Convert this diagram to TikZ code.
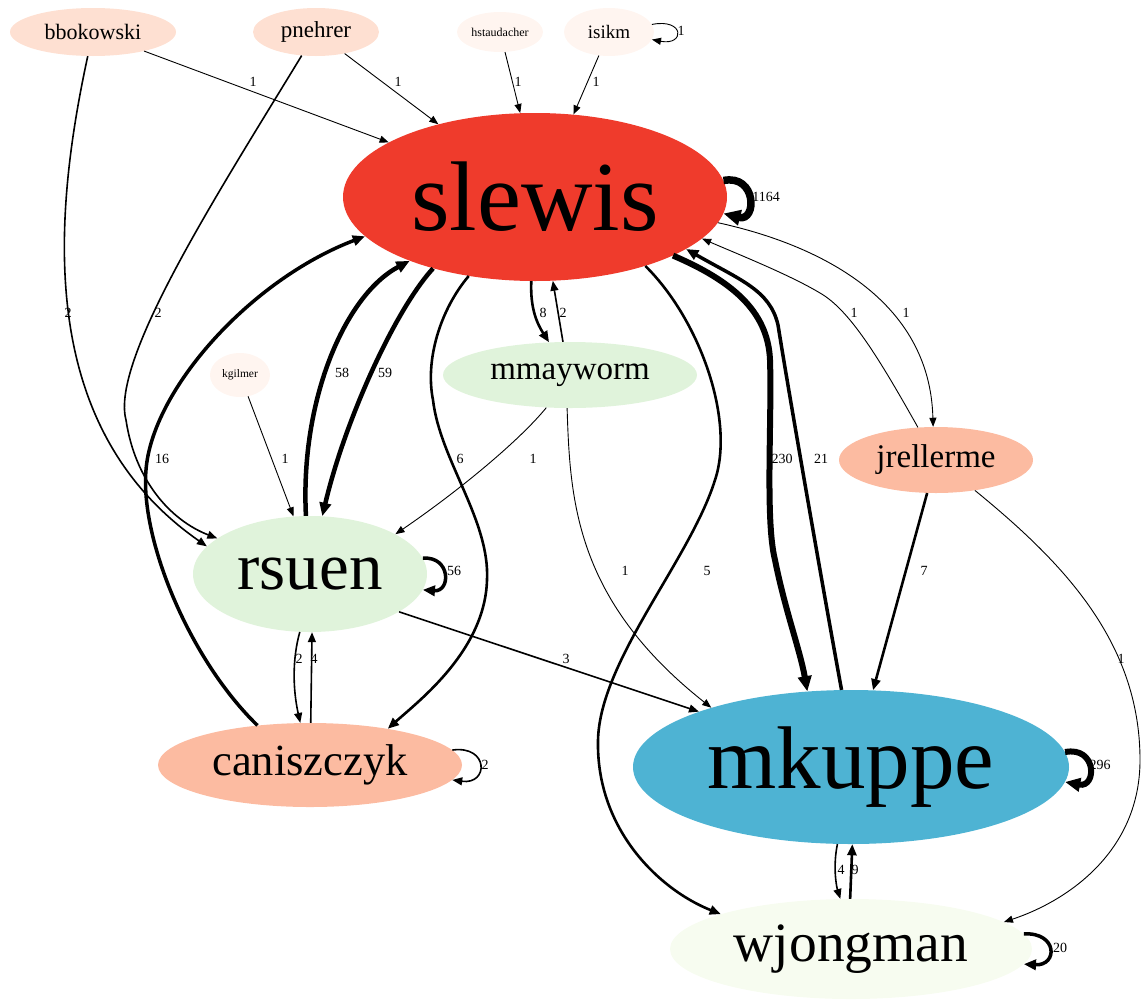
\documentclass[tikz,border=0pt]{standalone}
\usepackage{fontspec}
\setmainfont{Liberation Serif}
\usetikzlibrary{shapes.geometric,arrows.meta}
\definecolor{cRa}{HTML}{FFF5F0}
\definecolor{cRb}{HTML}{FEE0D2}
\definecolor{cRc}{HTML}{FCBBA1}
\definecolor{cRg}{HTML}{EF3B2C}
\definecolor{cGa}{HTML}{F7FCF0}
\definecolor{cGb}{HTML}{E0F3DB}
\definecolor{cGf}{HTML}{4EB3D3}
\begin{document}
\begin{tikzpicture}[x=1pt,y=-1pt,
  nd/.style={ellipse, inner sep=0pt, draw=none},
  fs/.style={font=\fontsize{#1}{#1}\selectfont},
  arr/.style={-{Triangle[length=8pt 1.2,width=6pt 1.2]}},
  wa/.style={arr,line width=0.9pt},
  wb/.style={arr,line width=1.6pt},
  wc/.style={arr,line width=2.6pt},
  wd/.style={arr,line width=3.5pt},
  we/.style={arr,line width=4.5pt},
  wf/.style={arr,line width=6pt},
  wg/.style={arr,line width=7.5pt},
  lbl/.style={font=\fontsize{14}{14}\selectfont, inner sep=0pt}]
\useasboundingbox (0,0) rectangle (1142,999);
% nodes
\node[nd,fill=cRb,minimum width=166pt,minimum height=48pt,fs=22] (bbokowski) at (93,32) {bbokowski};
\node[nd,fill=cRb,minimum width=126pt,minimum height=48pt,fs=23] (pnehrer) at (316,32) {pnehrer};
\node[nd,fill=cRa,minimum width=86pt,minimum height=40pt,fs=12] (hstaudacher) at (500,32) {hstaudacher};
\node[nd,fill=cRa,minimum width=90pt,minimum height=48pt,fs=19] (isikm) at (609,32) {isikm};
\node[nd,fill=cRg,minimum width=384pt,minimum height=168pt,fs=99] (slewis) at (535,197) {slewis};
\node[nd,fill=cGb,minimum width=254pt,minimum height=66pt,fs=33] (mmayworm) at (570,375) {mmayworm};
\node[nd,fill=cRa,minimum width=60pt,minimum height=44pt,fs=11.5] (kgilmer) at (240,375) {kgilmer};
\node[nd,fill=cRc,minimum width=194pt,minimum height=66pt,fs=33] (jrellerme) at (936,460) {jrellerme};
\node[nd,fill=cGb,minimum width=234pt,minimum height=116pt,fs=67] (rsuen) at (310,574) {rsuen};
\node[nd,fill=cRc,minimum width=304pt,minimum height=84pt,fs=44.5] (caniszczyk) at (310,765) {caniszczyk};
\node[nd,fill=cGf,minimum width=436pt,minimum height=154pt,fs=89] (mkuppe) at (851,767) {mkuppe};
\node[nd,fill=cGa,minimum width=362pt,minimum height=100pt,fs=55.5] (wjongman) at (851,949) {wjongman};
% edges
\draw[wa] (bbokowski) -- (slewis);
\draw[wb] (bbokowski) .. controls (50,230) and (40,430) .. (rsuen.165);
\draw[wa] (pnehrer) -- (slewis);
\draw[wb] (pnehrer) .. controls (220,190) and (110,360) .. (126,420) .. controls (135,480) and (170,520) .. (rsuen.159);
\draw[wa] (hstaudacher) -- (slewis.100);
\draw[wa] (isikm) -- (slewis.65);
\draw[wa] (isikm.10) .. controls (685,18) and (685,46) .. (isikm.-10);
\draw[wg] (slewis.5) .. controls (757,174) and (757,222) .. (slewis.-5);
\draw[wc] (slewis) .. controls (530,310) and (538,325) .. (mmayworm);
\draw[wb] (mmayworm.102) -- (slewis.-78);
\draw[we] (slewis.-145) .. controls (395,310) and (345,420) .. (rsuen.78);
\draw[we] (rsuen.94) .. controls (300,400) and (345,295) .. (slewis.-153);
\draw[wd] (caniszczyk.143) .. controls (190,660) and (140,540) .. (146,470) .. controls (152,390) and (250,280) .. (slewis.-167);
\draw[wc] (slewis.-130) .. controls (440,310) and (425,360) .. (433,400) .. controls (440,460) and (490,520) .. (487,580) .. controls (485,650) and (420,700) .. (caniszczyk.25);
\draw[wc] (slewis.-32) .. controls (700,320) and (735,420) .. (715,480) .. controls (690,560) and (600,660) .. (598,740) .. controls (596,830) and (660,890) .. (wjongman.165);
\draw[wf] (slewis.-23) .. controls (730,280) and (768,310) .. (770,360) .. controls (772,420) and (765,520) .. (775,560) .. controls (785,610) and (800,650) .. (mkuppe.120);
\draw[wd] (mkuppe.97) .. controls (825,600) and (790,400) .. (778,325) .. controls (770,290) and (740,280) .. (slewis.-19);
\draw[wa] (jrellerme.119) .. controls (880,360) and (850,310) .. (820,293) .. controls (790,275) and (740,255) .. (slewis.-14);
\draw[wa] (slewis.-8) .. controls (820,245) and (930,300) .. (jrellerme.95);
\draw[wa] (kgilmer) -- (rsuen.106);
\draw[wa] (mmayworm.-126) .. controls (520,440) and (460,490) .. (rsuen.25);
\draw[wa] (mmayworm.-95) .. controls (570,500) and (575,600) .. (mkuppe.157);
\draw[wd] (rsuen.8) .. controls (451,556) and (451,592) .. (rsuen.-8);
\draw[wb] (rsuen.-100) .. controls (292,660) and (293,690) .. (caniszczyk.103);
\draw[wb] (caniszczyk.89) -- (rsuen.-88);
\draw[wb] (rsuen.-23) -- (mkuppe.160);
\draw[wb] (caniszczyk.6) .. controls (489,745) and (489,785) .. (caniszczyk.-6);
\draw[wc] (jrellerme.-105) -- (mkuppe.74);
\draw[wa] (jrellerme.-38) .. controls (1060,560) and (1140,640) .. (1140,760) .. controls (1140,850) and (1070,900) .. (wjongman.10);
\draw[wf] (mkuppe.4) .. controls (1097,746) and (1097,788) .. (mkuppe.-4);
\draw[wb] (mkuppe.-100) .. controls (833,865) and (836,885) .. (wjongman.102);
\draw[wc] (wjongman.91) -- (mkuppe.-89);
\draw[wd] (wjongman.5) .. controls (1058,932) and (1058,966) .. (wjongman.-5);
% labels
\node[lbl] (l1) at (253,82) {1};
\node[lbl] (l2) at (398,82) {1};
\node[lbl] (l3) at (518,82) {1};
\node[lbl] (l4) at (596,82) {1};
\node[lbl] (l5) at (681,31) {1};
\node[lbl] (l6) at (766,197) {1164};
\node[lbl] (l7) at (68,313) {2};
\node[lbl] (l8) at (158,313) {2};
\node[lbl] (l9) at (543,313) {8};
\node[lbl] (l10) at (563,313) {2};
\node[lbl] (l11) at (854,313) {1};
\node[lbl] (l12) at (906,313) {1};
\node[lbl] (l13) at (342,373) {58};
\node[lbl] (l14) at (385,373) {59};
\node[lbl] (l15) at (162,459) {16};
\node[lbl] (l16) at (285,459) {1};
\node[lbl] (l17) at (460,459) {6};
\node[lbl] (l18) at (533,459) {1};
\node[lbl] (l19) at (782,459) {230};
\node[lbl] (l20) at (821,459) {21};
\node[lbl] (l21) at (454,571) {56};
\node[lbl] (l22) at (625,571) {1};
\node[lbl] (l23) at (707,571) {5};
\node[lbl] (l24) at (924,571) {7};
\node[lbl] (l25) at (299,659) {2};
\node[lbl] (l26) at (314,659) {4};
\node[lbl] (l27) at (566,659) {3};
\node[lbl] (l28) at (1121,659) {1};
\node[lbl] (l29) at (485,765) {2};
\node[lbl] (l30) at (1100,765) {296};
\node[lbl] (l31) at (841,870) {4};
\node[lbl] (l32) at (855,870) {9};
\node[lbl] (l33) at (1060,948) {20};
\end{tikzpicture}
\end{document}
